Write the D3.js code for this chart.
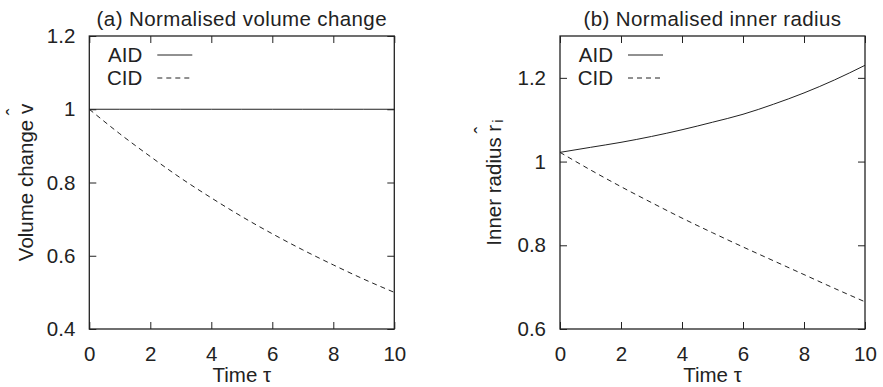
<!DOCTYPE html>
<html>
<head>
<meta charset="utf-8">
<script src="https://cdn.jsdelivr.net/npm/d3@7"></script>
<style>
  body { margin: 0; background: #fff; }
  text { font-family: "Liberation Sans", Arial, Helvetica, sans-serif; fill: #222; }
</style>
</head>
<body>
<div id="chart"></div>
<script>
// time steps read at each integer
const tau = [0, 1, 2, 3, 4, 5, 6, 7, 8, 9, 10]

// (a) normalised volume change
const volume_aid = [1, 1, 1, 1, 1, 1, 1, 1, 1, 1, 1]
const volume_cid = [1.000, 0.933, 0.871, 0.812, 0.758, 0.707, 0.660, 0.616, 0.575, 0.536, 0.500]

// (b) normalised inner radius
const radius_aid = [1.022, 1.034, 1.046, 1.060, 1.076, 1.094, 1.113, 1.137, 1.164, 1.195, 1.230]
const radius_cid = [1.022, 0.980, 0.940, 0.902, 0.865, 0.830, 0.796, 0.763, 0.730, 0.697, 0.665]

const x_ticks = [0, 2, 4, 6, 8, 10]
const a_y_ticks = [0.4, 0.6, 0.8, 1, 1.2]
const b_y_ticks = [0.6, 0.8, 1, 1.2]
const series_names = ["AID", "CID"]

const width = 883, height = 387
const font_size = 20.5

const svg = d3.select("#chart").append("svg")
  .attr("width", width)
  .attr("height", height)

const panels = [
  { left: 89.3, title: "(a) Normalised volume change", y_domain: [0.4, 1.2], y_ticks: a_y_ticks,
    series: [volume_aid, volume_cid], label: "a", label_x: 26 },
  { left: 560, title: "(b) Normalised inner radius", y_domain: [0.6, 1.3], y_ticks: b_y_ticks,
    series: [radius_aid, radius_cid], label: "b", label_x: 494 }
]

const plot_w = 305, plot_top = 36, plot_bottom = 329

panels.forEach(p => {
  const x = d3.scaleLinear().domain([0, 10]).range([p.left, p.left + plot_w])
  const y = d3.scaleLinear().domain(p.y_domain).range([plot_bottom, plot_top])
  const g = svg.append("g")

  // inward ticks on all four sides
  const tick_len = 7
  const mk = (axis, tx, ty) => {
    const a = g.append("g").attr("transform", `translate(${tx},${ty})`).call(axis)
    a.select(".domain").remove()
    a.selectAll(".tick line").attr("stroke", "#222").attr("stroke-width", 1)
    return a
  }
  const xb = mk(d3.axisBottom(x).tickValues(x_ticks).tickSize(-tick_len).tickPadding(13)
    .tickFormat(d3.format("d")), 0, plot_bottom)
  xb.selectAll("text").attr("font-size", font_size).attr("dy", "0.95em")
  mk(d3.axisTop(x).tickValues(x_ticks).tickSize(-tick_len).tickFormat(""), 0, plot_top)
  const yl = mk(d3.axisLeft(y).tickValues(p.y_ticks).tickSize(-tick_len).tickPadding(14)
    .tickFormat(d => d3.format("")(d)), p.left, 0)
  yl.selectAll("text").attr("font-size", font_size)
  mk(d3.axisRight(y).tickValues(p.y_ticks).tickSize(-tick_len).tickFormat(""), p.left + plot_w, 0)
  g.selectAll("g").attr("font-family", null)
  g.selectAll(".tick text").attr("fill", "#222")

  // frame
  g.append("rect")
    .attr("x", p.left).attr("y", plot_top)
    .attr("width", plot_w).attr("height", plot_bottom - plot_top)
    .attr("fill", "none").attr("stroke", "#222").attr("stroke-width", 1.3)

  // curves
  const line = d3.line()
    .x((d, i) => x(tau[i]))
    .y(d => y(d))
    .curve(d3.curveMonotoneX)
  p.series.forEach((s, i) => {
    g.append("path")
      .datum(s)
      .attr("d", line)
      .attr("fill", "none")
      .attr("stroke", "#222")
      .attr("stroke-width", 1)
      .attr("stroke-dasharray", i == 1 ? "5,4" : null)
  })

  // legend
  series_names.forEach((name, i) => {
    const ly = 55 + i * 23
    g.append("text")
      .attr("x", p.left + 53).attr("y", ly)
      .attr("dy", "0.35em")
      .attr("text-anchor", "end")
      .attr("font-size", font_size)
      .text(name)
    g.append("line")
      .attr("x1", p.left + 68).attr("x2", p.left + 103)
      .attr("y1", ly).attr("y2", ly)
      .attr("stroke", "#222").attr("stroke-width", 1)
      .attr("stroke-dasharray", i == 1 ? "5,4" : null)
  })

  // title
  g.append("text")
    .attr("x", p.left + plot_w / 2).attr("y", 26)
    .attr("text-anchor", "middle")
    .attr("font-size", font_size)
    .attr("letter-spacing", "0.4")
    .text(p.title)

  // x label
  g.append("text")
    .attr("x", p.left + plot_w / 2).attr("y", 382)
    .attr("text-anchor", "middle")
    .attr("font-size", font_size)
    .text("Time \u03c4")

  // y label, with hat over the symbol
  const yc = (plot_top + plot_bottom) / 2
  const lab = g.append("text")
    .attr("transform", `translate(${p.label_x},${yc}) rotate(-90)`)
    .attr("text-anchor", "middle")
    .attr("font-size", font_size)
    .attr("dy", "0.35em")
  if (p.label == "a") {
    lab.append("tspan").text("Volume change v")
    lab.append("tspan").attr("dx", "-0.55em").attr("dy", "-0.6em").text("\u02c6")
  } else {
    lab.append("tspan").text("Inner radius r")
    lab.append("tspan").attr("dx", "-0.42em").attr("dy", "-0.6em").text("\u02c6")
    lab.append("tspan").attr("dx", "0.25em").attr("dy", "0.9em").attr("font-size", font_size * 0.75).text("i")
  }
})
</script>
</body>
</html>
